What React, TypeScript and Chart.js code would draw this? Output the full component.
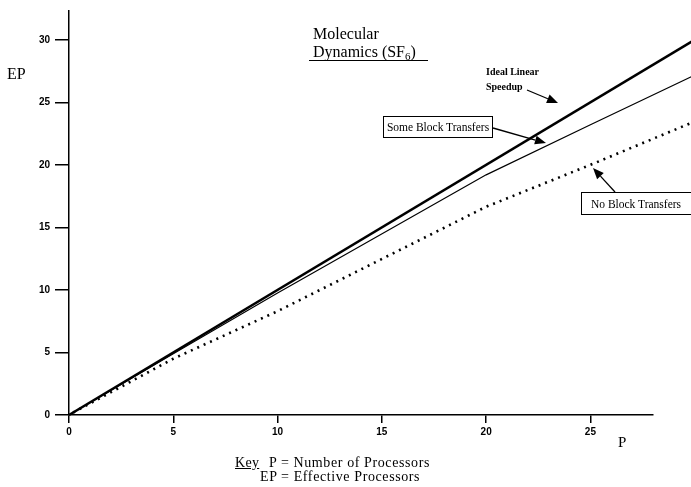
import React, { useEffect, useRef } from 'react';
import { Chart, registerables } from 'chart.js';

Chart.register(...registerables);

// ---- data ----
const P_IDEAL = [0, 29.9];
const EP_IDEAL = [0, 29.9];

const P_SOME = [0, 5, 10, 20, 25, 29.9];
const EP_SOME = [0, 4.9, 9.75, 19.2, 23.2, 27.1];

const P_NONE = [0.2, 5, 10, 20, 25, 29.9];
const EP_NONE = [0.2, 4.5, 8.3, 16.65, 20.0, 23.4];

const X_MIN = 0;
const X_MAX = 28;
const Y_MIN = 0;
const Y_MAX = 32.3;
const TICK_STEP = 5;

// annotation arrows: [fromX, fromY, toX, toY, headLen, headHalfWidth] in pixels
const ARROWS: number[][] = [
  [527, 90, 558, 103, 11, 4.5],
  [493, 128, 546, 143, 11, 4.5],
  [615, 192, 593, 168, 11, 4.5],
];

const toPts = (xs: number[], ys: number[]) => xs.map((x, i) => ({ x, y: ys[i] }));

const arrowPlugin = {
  id: 'arrows',
  afterDatasetsDraw(chart: any) {
    const ctx = chart.ctx as CanvasRenderingContext2D;
    ctx.save();
    ctx.strokeStyle = '#000';
    ctx.fillStyle = '#000';
    ctx.lineWidth = 1.3;
    ARROWS.forEach(([x1, y1, x2, y2, hl, hw]) => {
      const ang = Math.atan2(y2 - y1, x2 - x1);
      const bx = x2 - hl * Math.cos(ang);
      const by = y2 - hl * Math.sin(ang);
      ctx.beginPath();
      ctx.moveTo(x1, y1);
      ctx.lineTo(bx, by);
      ctx.stroke();
      ctx.beginPath();
      ctx.moveTo(x2, y2);
      ctx.lineTo(bx + hw * Math.sin(ang), by - hw * Math.cos(ang));
      ctx.lineTo(bx - hw * Math.sin(ang), by + hw * Math.cos(ang));
      ctx.closePath();
      ctx.fill();
    });
    ctx.restore();
  },
};

const tickFont = { family: 'Liberation Sans', weight: 'bold' as const, size: 10 };

export default function App() {
  const ref = useRef<HTMLCanvasElement | null>(null);

  useEffect(() => {
    if (!ref.current) return;
    const chart = new Chart(ref.current, {
      type: 'line',
      data: {
        datasets: [
          {
            label: 'Ideal Linear Speedup',
            data: toPts(P_IDEAL, EP_IDEAL),
            borderColor: '#000',
            borderWidth: 2.6,
            pointRadius: 0,
            tension: 0,
            clip: false as any,
          },
          {
            label: 'Some Block Transfers',
            data: toPts(P_SOME, EP_SOME),
            borderColor: '#000',
            borderWidth: 1.2,
            pointRadius: 0,
            tension: 0,
            clip: false as any,
          },
          {
            label: 'No Block Transfers',
            data: toPts(P_NONE, EP_NONE),
            borderColor: '#000',
            borderWidth: 2.6,
            borderDash: [2, 5],
            borderCapStyle: 'butt',
            pointRadius: 0,
            tension: 0,
            clip: false as any,
          },
        ],
      },
      options: {
        responsive: false,
        animation: false,
        events: [],
        layout: { padding: { left: 0, top: 8, right: 38, bottom: 0 } },
        plugins: { legend: { display: false }, tooltip: { enabled: false } },
        scales: {
          x: {
            type: 'linear',
            min: X_MIN,
            max: X_MAX,
            afterFit: (s: any) => {
              s.height = 72;
            },
            border: { display: true, color: '#000', width: 1.5 },
            grid: {
              drawOnChartArea: false,
              drawTicks: true,
              tickLength: 8,
              color: '#000',
              lineWidth: 1.5,
            },
            ticks: {
              stepSize: TICK_STEP,
              includeBounds: false,
              color: '#000',
              font: tickFont,
              padding: 3,
              maxRotation: 0,
            },
          },
          y: {
            type: 'linear',
            min: Y_MIN,
            max: Y_MAX,
            afterFit: (s: any) => {
              s.width = 69;
            },
            border: { display: true, color: '#000', width: 1.5 },
            grid: {
              drawOnChartArea: false,
              drawTicks: true,
              tickLength: 14,
              color: '#000',
              lineWidth: 1.5,
            },
            ticks: {
              stepSize: TICK_STEP,
              includeBounds: false,
              color: '#000',
              font: tickFont,
              padding: 5,
            },
          },
        },
      } as any,
      plugins: [arrowPlugin],
    });
    return () => chart.destroy();
  }, []);

  const serif = '"Liberation Serif", "Times New Roman", serif';
  const abs = (left: number, top: number, extra: React.CSSProperties = {}): React.CSSProperties => ({
    position: 'absolute',
    left,
    top,
    whiteSpace: 'nowrap',
    fontFamily: serif,
    color: '#000',
    ...extra,
  });

  return (
    <div style={{ position: 'absolute', left: 0, top: 0, width: 691, height: 487, background: '#fff', overflow: 'hidden' }}>
      <canvas ref={ref} width={691} height={487} style={{ position: 'absolute', left: 0, top: 0, width: 691, height: 487 }} />

      {/* Title */}
      <div style={abs(313, 25, { fontSize: 16, lineHeight: '18px' })}>
        Molecular
        <br />
        Dynamics (SF<sub style={{ fontSize: 11, verticalAlign: '-3px', lineHeight: 0 }}>6</sub>)
      </div>
      <div style={{ position: 'absolute', left: 309, top: 60, width: 119, height: 0, borderTop: '1.5px solid #000' }} />

      {/* Axis titles */}
      <div style={abs(7, 66, { fontSize: 16, lineHeight: '16px' })}>EP</div>
      <div style={abs(618, 435, { fontSize: 15, lineHeight: '15px' })}>P</div>

      {/* Ideal linear speedup label */}
      <div style={abs(486, 64, { fontSize: 10, lineHeight: '15px', fontWeight: 'bold' })}>
        Ideal Linear
        <br />
        Speedup
      </div>

      {/* Boxes */}
      <div
        style={abs(383, 116, {
          width: 110,
          height: 22,
          boxSizing: 'border-box',
          border: '1px solid #000',
          fontSize: 11.5,
          display: 'flex',
          alignItems: 'center',
          justifyContent: 'center',
        })}
      >
        Some Block Transfers
      </div>
      <div
        style={abs(581, 192, {
          width: 112,
          height: 23,
          boxSizing: 'border-box',
          border: '1px solid #000',
          fontSize: 11.5,
          display: 'flex',
          alignItems: 'center',
          justifyContent: 'center',
          paddingRight: 2,
        })}
      >
        No Block Transfers
      </div>

      {/* Key */}
      <div style={abs(235, 456, { fontSize: 14, lineHeight: '14px', textDecoration: 'underline', letterSpacing: 0.3 })}>Key</div>
      <div style={abs(269, 456, { fontSize: 14, lineHeight: '14px', letterSpacing: 0.6 })}>P = Number of Processors</div>
      <div style={abs(260, 470, { fontSize: 14, lineHeight: '14px', letterSpacing: 0.6 })}>EP = Effective Processors</div>
    </div>
  );
}
